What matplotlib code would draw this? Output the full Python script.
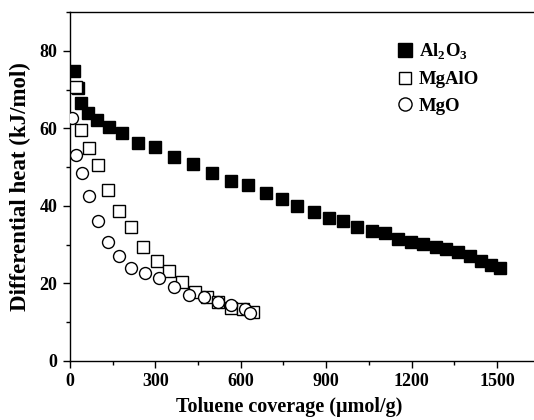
import matplotlib
matplotlib.use("Agg")
import matplotlib.pyplot as plt
from matplotlib.ticker import MultipleLocator

plt.rcParams["font.family"] = ["Liberation Serif", "DejaVu Serif"]
plt.rcParams["font.weight"] = "bold"
plt.rcParams["mathtext.fontset"] = "custom"
plt.rcParams["mathtext.rm"] = "Liberation Serif:bold"
plt.rcParams["mathtext.bf"] = "Liberation Serif:bold"

# Al2O3 (filled squares)
al_x = [14, 28, 38, 62, 96, 138, 184, 238, 299, 366, 433, 499, 565, 627, 688, 745,
        799, 856, 910, 959, 1010, 1060, 1106, 1152, 1197, 1240, 1285, 1322, 1364,
        1404, 1443, 1478, 1512]
al_y = [74.9, 70.4, 66.6, 63.9, 62.2, 60.4, 58.8, 56.3, 55.1, 52.7, 50.9, 48.5, 46.3,
        45.3, 43.3, 41.8, 40.0, 38.4, 36.8, 36.1, 34.6, 33.4, 33.1, 31.4, 30.6, 30.2,
        29.4, 28.9, 28.2, 27.1, 25.9, 24.8, 23.9]

# MgAlO (open squares)
mgal_x = [22, 38, 66, 99, 134, 172, 214, 257, 304, 349, 394, 439, 480, 521, 567, 608, 643]
mgal_y = [70.6, 59.5, 54.8, 50.6, 44.1, 38.7, 34.5, 29.3, 25.9, 23.3, 20.3, 17.9, 16.6,
          15.1, 13.7, 13.4, 12.6]

# MgO (open circles)
mgo_x = [6, 21, 41, 68, 97, 134, 173, 216, 264, 313, 366, 419, 470, 521, 567, 614, 634]
mgo_y = [62.6, 53.1, 48.6, 42.6, 36.2, 30.7, 27.0, 24.1, 22.7, 21.3, 19.2, 17.1, 16.4,
         15.2, 14.5, 13.4, 12.4]

fig = plt.figure(figsize=(5.34, 4.2), dpi=100)
ax = fig.add_axes([0.131, 0.1405, 0.869, 0.831])

ax.plot(al_x, al_y, "s", ms=9, mfc="black", mec="black", ls="none",
        label=r"Al$_2$O$_3$", zorder=3)
ax.plot(mgal_x, mgal_y, "s", ms=8, mfc="white", mec="black", mew=1.0, ls="none",
        label="MgAlO", zorder=4)
ax.plot(mgo_x, mgo_y, "o", ms=8.6, mfc="white", mec="black", mew=1.0, ls="none",
        label="MgO", zorder=5)

ax.set_xlim(0, 1630)
ax.set_ylim(0, 90)
ax.xaxis.set_major_locator(MultipleLocator(300))
ax.xaxis.set_minor_locator(MultipleLocator(150))
ax.yaxis.set_major_locator(MultipleLocator(20))
ax.yaxis.set_minor_locator(MultipleLocator(10))
ax.tick_params(which="major", direction="out", length=5, width=1, labelsize=13, pad=4)
ax.tick_params(which="minor", direction="out", length=3, width=1)
ax.spines["right"].set_visible(False)
for s in ["left", "bottom", "top"]:
    ax.spines[s].set_linewidth(1.0)
for lab in ax.get_xticklabels() + ax.get_yticklabels():
    lab.set_fontweight("bold")

ax.set_xlabel("Toluene coverage (\u03bcmol/g)", fontsize=14.5, fontweight="bold")
ax.xaxis.set_label_coords(0.472, -0.102)
ax.set_ylabel("Differential heat (kJ/mol)", fontsize=16.5, fontweight="bold", labelpad=6)

ax.legend(loc="upper left", bbox_to_anchor=(0.702, 0.915), frameon=False,
          prop={"weight": "bold", "size": 13.5}, handletextpad=0.25, labelspacing=0.5,
          handlelength=1.0, borderaxespad=0, borderpad=0, markerscale=1.1)

fig.savefig("out.png", dpi=100)
